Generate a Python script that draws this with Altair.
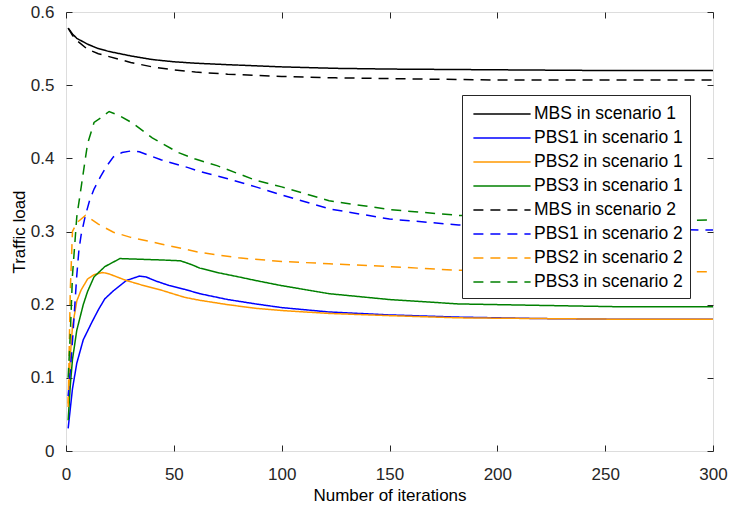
import altair as alt
import pandas as pd

series_names = [
    "MBS in scenario 1", "PBS1 in scenario 1", "PBS2 in scenario 1", "PBS3 in scenario 1",
    "MBS in scenario 2", "PBS1 in scenario 2", "PBS2 in scenario 2", "PBS3 in scenario 2",
]
series_colors = ["#000000", "#0000FF", "#FF9900", "#008000",
                 "#000000", "#0000FF", "#FF9900", "#008000"]
series_dash = [[1, 0], [1, 0], [1, 0], [1, 0], [10, 7], [10, 7], [10, 7], [10, 7]]

x_ticks = [0, 50, 100, 150, 200, 250, 300]
y_ticks = [0, 0.1, 0.2, 0.3, 0.4, 0.5, 0.6]

# MBS, scenario 1
mbs1_x = [1, 3, 5, 10, 15, 20, 30, 40, 50, 60, 75, 100, 125, 150, 200, 250, 300]
mbs1_y = [0.578, 0.570, 0.564, 0.556, 0.550, 0.546, 0.540, 0.535, 0.532, 0.530, 0.528,
          0.525, 0.523, 0.522, 0.521, 0.520, 0.520]
# PBS1, scenario 1
pbs1a_x = [1, 3, 5, 8, 12, 15, 18, 22, 28, 34, 37, 42, 48, 55, 62, 75, 88, 100, 122,
           150, 182, 220, 260, 300]
pbs1a_y = [0.031, 0.085, 0.120, 0.152, 0.176, 0.193, 0.208, 0.219, 0.233, 0.239, 0.238,
           0.232, 0.226, 0.221, 0.215, 0.207, 0.201, 0.196, 0.190, 0.186, 0.183, 0.181,
           0.180, 0.180]
# PBS2, scenario 1
pbs2a_x = [1, 2, 3, 5, 7, 10, 13, 17, 20, 28, 35, 44, 55, 62, 75, 88, 100, 122, 150,
           182, 220, 260, 300]
pbs2a_y = [0.065, 0.130, 0.170, 0.205, 0.220, 0.235, 0.241, 0.244, 0.242, 0.233, 0.227,
           0.220, 0.210, 0.206, 0.200, 0.195, 0.192, 0.188, 0.185, 0.182, 0.181, 0.180,
           0.180]
# PBS3, scenario 1
pbs3a_x = [1, 2, 3, 5, 8, 10, 13, 18, 25, 35, 45, 53, 58, 62, 70, 80, 88, 100, 122,
           150, 182, 220, 260, 300]
pbs3a_y = [0.042, 0.090, 0.125, 0.165, 0.200, 0.218, 0.238, 0.252, 0.263, 0.262, 0.261,
           0.260, 0.255, 0.250, 0.244, 0.238, 0.233, 0.226, 0.215, 0.207, 0.201, 0.199,
           0.197, 0.197]
# MBS, scenario 2
mbs2_x = [1, 3, 5, 10, 15, 20, 30, 40, 50, 60, 75, 100, 125, 150, 200, 250, 300]
mbs2_y = [0.578, 0.568, 0.561, 0.549, 0.543, 0.539, 0.531, 0.525, 0.521, 0.518, 0.515,
          0.512, 0.510, 0.509, 0.507, 0.507, 0.507]
# PBS1, scenario 2
pbs1b_x = [1, 2, 3, 4, 5, 6, 7, 9, 11, 13, 16, 19, 22, 26, 30, 34, 44, 57, 61, 75, 88,
           100, 122, 150, 182, 220, 260, 300]
pbs1b_y = [0.075, 0.110, 0.150, 0.195, 0.240, 0.275, 0.295, 0.322, 0.343, 0.358, 0.375,
           0.390, 0.402, 0.408, 0.410, 0.409, 0.398, 0.387, 0.383, 0.372, 0.361, 0.350,
           0.331, 0.317, 0.309, 0.305, 0.303, 0.302]
# PBS2, scenario 2
pbs2b_x = [1, 2, 3, 5, 9, 15, 22, 30, 44, 61, 80, 100, 122, 150, 182, 220, 260, 300]
pbs2b_y = [0.060, 0.220, 0.300, 0.312, 0.322, 0.310, 0.299, 0.292, 0.283, 0.272, 0.264,
           0.259, 0.256, 0.252, 0.247, 0.246, 0.245, 0.245]
# PBS3, scenario 2
pbs3b_x = [1, 2, 3, 5, 7, 10, 13, 16, 20, 25, 31, 40, 52, 60, 70, 88, 100, 122, 150,
           182, 220, 260, 290, 300]
pbs3b_y = [0.100, 0.160, 0.240, 0.320, 0.360, 0.420, 0.449, 0.455, 0.464, 0.458, 0.448,
           0.428, 0.408, 0.399, 0.390, 0.370, 0.361, 0.342, 0.330, 0.322, 0.320, 0.318,
           0.315, 0.316]

all_x = [mbs1_x, pbs1a_x, pbs2a_x, pbs3a_x, mbs2_x, pbs1b_x, pbs2b_x, pbs3b_x]
all_y = [mbs1_y, pbs1a_y, pbs2a_y, pbs3a_y, mbs2_y, pbs1b_y, pbs2b_y, pbs3b_y]

rows = []
for name, xs, ys in zip(series_names, all_x, all_y):
    for i, (xv, yv) in enumerate(zip(xs, ys)):
        rows.append({"series": name, "x": xv, "y": yv, "order": i})
df = pd.DataFrame(rows)

FONT = "Liberation Sans"
AX = "#262626"
xscale = alt.Scale(domain=[0, 300], nice=False, zero=False)
yscale = alt.Scale(domain=[0, 0.6], nice=False)

legend = alt.Legend(
    title=None, orient="none", legendX=396, legendY=83,
    symbolType="M-2.6,0H2.6", symbolSize=484, symbolStrokeWidth=1.5,
    symbolOffset=21, labelOffset=20, labelFont=FONT, labelFontSize=17.5,
    labelColor="#000000", fillColor="#FFFFFF", strokeColor="#262626",
    padding=7, rowPadding=3, labelLimit=300,
)

lines = alt.Chart(df).mark_line(strokeWidth=1.5, clip=True).encode(
    x=alt.X("x:Q", scale=xscale, axis=alt.Axis(
        values=x_ticks, orient="bottom", ticks=False, domain=False, grid=False,
        labelFlush=False, labelOverlap=False,
        title="Number of iterations", labelFont=FONT, labelFontSize=17,
        labelColor=AX, labelPadding=15, titleFont=FONT, titleFontSize=17,
        titleFontWeight="normal", titleColor="#000000", titlePadding=5)),
    y=alt.Y("y:Q", scale=yscale, axis=alt.Axis(
        values=y_ticks, orient="left", format=".1~f", ticks=False, domain=False,
        grid=False, labelFlush=False, labelOverlap=False,
        title="Traffic load", labelFont=FONT, labelFontSize=17,
        labelColor=AX, labelPadding=12, titleFont=FONT, titleFontSize=17,
        titleFontWeight="normal", titleColor="#000000", titlePadding=2)),
    color=alt.Color("series:N", scale=alt.Scale(domain=series_names, range=series_colors),
                    legend=legend),
    strokeDash=alt.StrokeDash("series:N", scale=alt.Scale(domain=series_names, range=series_dash),
                              legend=legend),
    order="order:Q",
)


def tick_layer(xorient, yorient):
    return alt.Chart(df).mark_line(strokeOpacity=0).encode(
        x=alt.X("x:Q", scale=xscale, axis=alt.Axis(
            values=x_ticks, orient=xorient, offset=-6, tickSize=6, tickColor=AX,
            tickWidth=1, labels=False, domain=False, grid=False, title=None)),
        y=alt.Y("y:Q", scale=yscale, axis=alt.Axis(
            values=y_ticks, orient=yorient, offset=-6, tickSize=6, tickColor=AX,
            tickWidth=1, labels=False, domain=False, grid=False, title=None)),
        detail="series:N",
    )


chart = alt.layer(
    lines, tick_layer("bottom", "left"), tick_layer("top", "right")
).resolve_axis(x="independent", y="independent").properties(
    width=647, height=439,
    autosize=alt.AutoSizeParams(type="none"),
    padding={"left": 66, "top": 12, "right": 16, "bottom": 57},
).configure_view(stroke=AX, strokeWidth=1.2).configure(background="#FFFFFF")

chart.save("out.html", embed_options={"renderer": "svg", "actions": False})
